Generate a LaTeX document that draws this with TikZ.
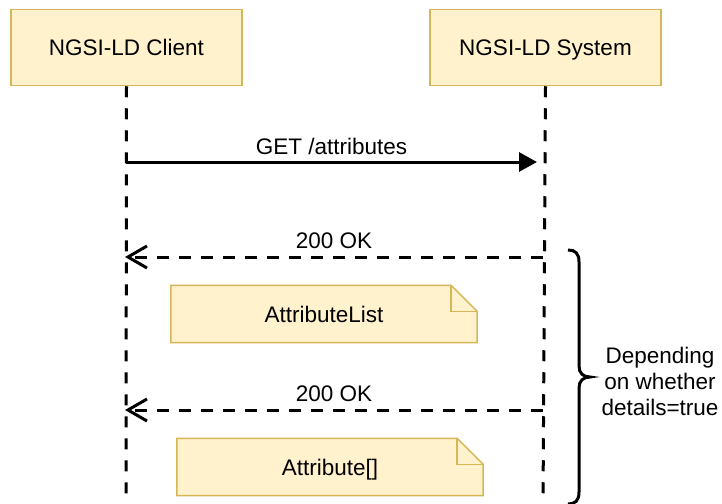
\documentclass[tikz,border=0pt]{standalone}
\usepackage{fontspec}
\setmainfont{Liberation Sans}
\usepackage{xcolor}
\usepackage{tikz}
\usetikzlibrary{arrows.meta,positioning,backgrounds}
\definecolor{notefill}{HTML}{FFF2CC}
\definecolor{noteline}{HTML}{D6B656}
\tikzset{
actor/.style={draw=noteline,fill=notefill,line width=1.5pt,minimum width=231pt,minimum height=76pt,inner sep=0pt,text height=16pt,text depth=0pt},
notebox/.style={minimum width=306pt,minimum height=57pt,inner sep=0pt,text height=16pt,text depth=0pt},
lifeline/.style={line width=3pt,dash pattern=on 11pt off 11pt},
request/.style={line width=3pt,-{Triangle[length=18pt,width=19pt]}},
reply/.style={line width=3pt,dash pattern=on 12pt off 10pt,-{Straight Barb[length=19pt,width=22pt,line width=3pt]}},
fold/.style={noteline,line width=1.5pt,line join=miter}
}
\begin{document}
\begin{tikzpicture}[x=1pt,y=-1pt,font=\fontsize{22.5}{26}\selectfont]
\useasboundingbox(0,0)rectangle(722,503);
\node[actor](client)at(126.5,47.5){NGSI-LD Client};
\node[actor](system)at(545.5,47.5){NGSI-LD System};
\coordinate(clientend)at(126,506);
\coordinate(systemend)at(543,506);
\draw[lifeline](client.south)--(clientend);
\draw[lifeline](system.south)--(systemend);
\coordinate(c1)at(126,162);
\coordinate(s1)at(537,162);
\coordinate(c2)at(125,257);
\coordinate(s2)at(543,257);
\coordinate(c3)at(125,410);
\coordinate(s3)at(543,410);
\draw[request](c1)--node[above=2pt]{GET /attributes}(s1);
\draw[reply](s2)--node[above=3pt,pos=0.5]{200 OK}(c2);
\draw[reply](s3)--node[above=3pt,pos=0.5]{200 OK}(c3);
\node[notebox](list)at(324,314){AttributeList};
\node[notebox](arr)at(330,467){Attribute[]};
\begin{scope}[on background layer]
\foreach \n in {list,arr}{
\draw[fold,fill=notefill](\n.north west)--([xshift=-26pt]\n.north east)--([yshift=-26pt]\n.north east)--(\n.south east)--(\n.south west)--cycle;
\draw[fold]([xshift=-26pt]\n.north east)--([xshift=-26pt,yshift=-26pt]\n.north east)--([yshift=-26pt]\n.north east);
}
\end{scope}
\draw[line width=3pt](568,250)..controls(575,250)and(579,253)..(579,262)--(579,366)
..controls(579,373)and(583,377)..(590,377)..controls(583,377)and(579,381)..(579,388)
--(579,492)..controls(579,501)and(575,504)..(568,504);
\node[align=center](cond)at(660,381){Depending\\on whether\\details=true};
\end{tikzpicture}
\end{document}
